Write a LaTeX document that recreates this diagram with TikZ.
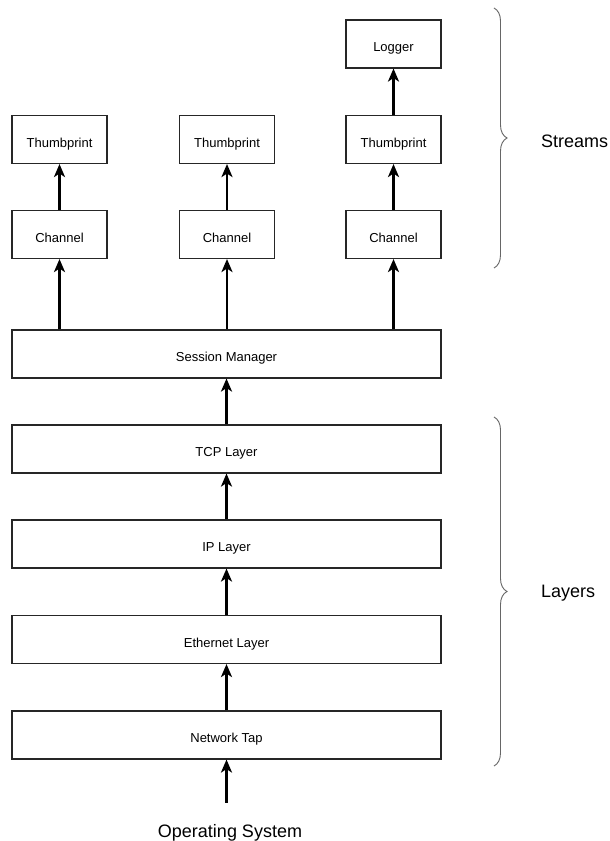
\documentclass[tikz,border=0pt]{standalone}
\usepackage{fontspec}
\setmainfont{Liberation Sans}
\usetikzlibrary{arrows.meta,decorations.pathreplacing}
\begin{document}
\begin{tikzpicture}[x=1pt,y=1pt,
  box/.style={draw=black!85,line width=1.1pt,minimum height=48pt,inner sep=0pt,text height=18.5pt,text depth=3pt,font=\fontsize{13}{15}\selectfont},
  smallbox/.style={box,minimum width=95pt},
  widebox/.style={box,minimum width=429pt},
  arr/.style={line width=2.6pt,-{Stealth[length=13pt,width=11pt,inset=3.5pt]}},
  brc/.style={draw=black!60,line width=0.9pt,decorate,decoration={brace,amplitude=13pt}},
  big/.style={font=\fontsize{18}{21}\selectfont,inner sep=0pt}]
\useasboundingbox[fill=white] (0,0) rectangle (610,841);
% stream columns
\node[smallbox] (log3) at (393.5,797) {Logger};
\node[smallbox] (th1) at (59.5,701.5) {Thumbprint};
\node[smallbox] (th2) at (227,701.5) {Thumbprint};
\node[smallbox] (th3) at (393.5,701.5) {Thumbprint};
\node[smallbox] (ch1) at (59.5,606.5) {Channel};
\node[smallbox] (ch2) at (227,606.5) {Channel};
\node[smallbox] (ch3) at (393.5,606.5) {Channel};
% layers
\node[widebox] (sess) at (226.5,487) {Session Manager};
\node[widebox] (tcp) at (226.5,392) {TCP Layer};
\node[widebox] (ip) at (226.5,297) {IP Layer};
\node[widebox] (eth) at (226.5,201.5) {Ethernet Layer};
\node[widebox] (tap) at (226.5,106) {Network Tap};
\node[big] (os) at (230,8) {Operating System};
\coordinate (osin) at (226.5,38);
% arrows
\draw[arr] (th3.north) -- (log3.south);
\draw[arr] (ch1.north) -- (th1.south);
\draw[arr] (ch2.north) -- (th2.south);
\draw[arr] (ch3.north) -- (th3.south);
\draw[arr] (sess.north -| ch1) -- (ch1.south);
\draw[arr] (sess.north -| ch2) -- (ch2.south);
\draw[arr] (sess.north -| ch3) -- (ch3.south);
\draw[arr] (tcp.north) -- (sess.south);
\draw[arr] (ip.north) -- (tcp.south);
\draw[arr] (eth.north) -- (ip.south);
\draw[arr] (tap.north) -- (eth.south);
\draw[arr] (osin) -- (tap.south);
% braces
\coordinate (sb1) at (494,833);
\coordinate (sb2) at (494,573);
\coordinate (lb1) at (494,424);
\coordinate (lb2) at (494,75);
\draw[brc] (sb1) -- (sb2);
\draw[brc] (lb1) -- (lb2);
\node[big,anchor=west] (streams) at (541,700) {Streams};
\node[big,anchor=west] (layers) at (541,248) {Layers};
\end{tikzpicture}
\end{document}
